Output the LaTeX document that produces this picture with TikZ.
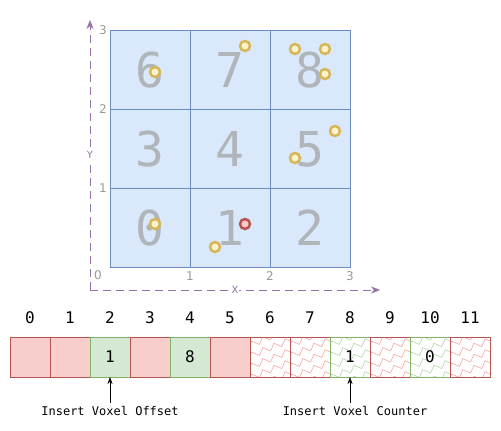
\documentclass[tikz,border=0pt]{standalone}
\usepackage{fontspec}
\setmonofont{DejaVu Sans Mono}
\setsansfont{DejaVu Sans}
\usetikzlibrary{positioning,arrows.meta,decorations.pathmorphing}
\definecolor{cellblue}{HTML}{DAE8FC}
\definecolor{cellborder}{HTML}{6C8EBF}
\definecolor{digitgray}{HTML}{B0B5BA}
\definecolor{ptfill}{HTML}{FFF2CC}
\definecolor{ptline}{HTML}{D6B656}
\definecolor{redfill}{HTML}{F8CECC}
\definecolor{redline}{HTML}{B85450}
\definecolor{greenfill}{HTML}{D5E8D4}
\definecolor{greenline}{HTML}{82B366}
\definecolor{redzig}{HTML}{F5B0AE}
\definecolor{greenzig}{HTML}{BADBB4}
\definecolor{axispurple}{HTML}{9673A6}
\definecolor{tickgray}{HTML}{999999}

\begin{document}
\begin{tikzpicture}[x=1pt, y=-1pt, node distance=0pt]
    \tikzstyle{voxel} = [rectangle, draw=cellborder, fill=cellblue, minimum width=80pt, minimum height=79pt, inner sep=0pt, outer sep=0pt, text=digitgray, font=\ttfamily\fontsize{48}{48}\selectfont]
    \tikzstyle{pt} = [circle, draw=ptline, fill=ptfill, line width=2.5pt, minimum size=10pt, inner sep=0pt]
    \tikzstyle{hitpt} = [pt, draw=redline, fill=redfill]
    \tikzstyle{axis} = [draw=axispurple, dash pattern=on 8pt off 5pt, -{Stealth[length=9pt,width=7pt]}]
    \tikzstyle{axislabel} = [fill=white, inner sep=1pt, text=axispurple, font=\sffamily\fontsize{10}{10}\selectfont]
    \tikzstyle{tick} = [inner sep=1pt, text=tickgray, font=\sffamily\fontsize{12}{12}\selectfont]
    \tikzstyle{slot} = [rectangle, minimum size=40pt, inner sep=0pt, outer sep=0pt, font=\ttfamily\fontsize{16}{16}\selectfont]
    \tikzstyle{redcell} = [slot, draw=redline, fill=redfill]
    \tikzstyle{greencell} = [slot, draw=greenline, fill=greenfill]
    \tikzstyle{redhatch} = [slot, draw=redline, fill=white, path picture={
        \foreach \k in {-45,-34,...,45}
            \draw[redzig, line width=0.7pt, decorate, decoration={zigzag, segment length=12pt, amplitude=3pt}]
                ([yshift=\k pt]path picture bounding box.south west) -- ++(50pt,20pt);}]
    \tikzstyle{greenhatch} = [slot, draw=greenline, fill=white, path picture={
        \foreach \k in {-45,-34,...,45}
            \draw[greenzig, line width=0.7pt, decorate, decoration={zigzag, segment length=12pt, amplitude=3pt}]
                ([yshift=\k pt]path picture bounding box.south west) -- ++(50pt,20pt);}]
    \tikzstyle{index} = [inner sep=0pt, font=\ttfamily\fontsize{16}{16}\selectfont]
    \tikzstyle{note} = [font=\ttfamily\fontsize{12}{12}\selectfont]
    \tikzstyle{pointer} = [draw, -{Stealth[length=7pt,width=5pt]}]

    \useasboundingbox (0,0) rectangle (501,431);

    % voxel grid
    \node [voxel] (c0) at (150,228) {0};
    \node [voxel, right=of c0] (c1) {1};
    \node [voxel, right=of c1] (c2) {2};
    \node [voxel, above=of c0] (c3) {3};
    \node [voxel, right=of c3] (c4) {4};
    \node [voxel, right=of c4] (c5) {5};
    \node [voxel, above=of c3] (c6) {6};
    \node [voxel, right=of c6] (c7) {7};
    \node [voxel, right=of c7] (c8) {8};

    % points
    \node [pt] (p0) at (155,224) {};
    \node [pt] (p1) at (215,247) {};
    \node [hitpt] (p2) at (245,224) {};
    \node [pt] (p3) at (335,131) {};
    \node [pt] (p4) at (295,158) {};
    \node [pt] (p5) at (155,72) {};
    \node [pt] (p6) at (245,46) {};
    \node [pt] (p7) at (295,49) {};
    \node [pt] (p8) at (325,49) {};
    \node [pt] (p9) at (325,74) {};

    % axes
    \coordinate (origin) at (90,290);
    \coordinate (ytip) at (90,20);
    \coordinate (xtip) at (380,290);
    \path [axis] (origin) -- node[axislabel] {Y} (ytip);
    \path [axis] (origin) -- node[axislabel] {X} (xtip);
    \node [tick] (t0) at (98,275) {0};
    \node [tick, below=3pt of c0.south east] (tx1) {1};
    \node [tick, below=3pt of c1.south east] (tx2) {2};
    \node [tick, below=3pt of c2.south east] (tx3) {3};
    \node [tick, left=2pt of c3.south west] (ty1) {1};
    \node [tick, left=2pt of c6.south west] (ty2) {2};
    \node [tick, left=2pt of c6.north west] (ty3) {3};

    % buffer
    \node [redcell] (a0) at (30,357) {};
    \node [redcell, right=of a0] (a1) {};
    \node [greencell, right=of a1] (a2) {1};
    \node [redcell, right=of a2] (a3) {};
    \node [greencell, right=of a3] (a4) {8};
    \node [redcell, right=of a4] (a5) {};
    \node [redhatch, right=of a5] (a6) {};
    \node [redhatch, right=of a6] (a7) {};
    \node [greenhatch, right=of a7] (a8) {1};
    \node [redhatch, right=of a8] (a9) {};
    \node [greenhatch, right=of a9] (a10) {0};
    \node [redhatch, right=of a10] (a11) {};
    \foreach \i in {0,...,11}
        \node [index, above=13pt of a\i] (n\i) {\i};

    \node [note] (offset) at (110,411) {Insert Voxel Offset};
    \node [note] (counter) at (355,411) {Insert Voxel Counter};
    \path [pointer] (offset.north -| a2) -- (a2);
    \path [pointer] (counter.north -| a8) -- (a8);
\end{tikzpicture}
\end{document}
